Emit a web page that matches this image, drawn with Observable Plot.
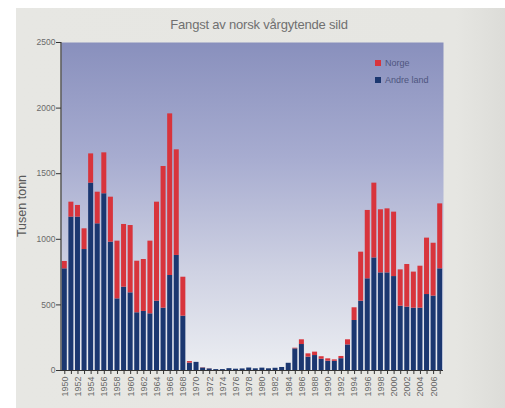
<!DOCTYPE html>
<html>
<head>
<meta charset="utf-8">
<script src="https://cdn.jsdelivr.net/npm/d3@7"></script>
<script src="https://cdn.jsdelivr.net/npm/@observablehq/plot@0.6"></script>
<style>
  html, body { margin: 0; padding: 0; background: #ffffff; width: 505px; height: 408px; overflow: hidden; }
  #panel { position: absolute; left: 16px; top: 8px; width: 489px; height: 400px; background: linear-gradient(90deg, #e7e7e3 0%, #e6e6e2 90%, #dcdcd8 100%); }
  #chart { position: absolute; left: 0; top: 0; }
  #title { position: absolute; left: 60px; width: 398px; top: 17px; text-align: center; font: 13px "Liberation Sans", Arial, sans-serif; color: #707070; letter-spacing: -0.2px; }
  #ylabel { position: absolute; left: 22px; top: 206px; transform: translate(-50%, -50%) rotate(-90deg); font: 12.5px "Liberation Sans", Arial, sans-serif; color: #5a5a5a; white-space: nowrap; }
  .leg { position: absolute; left: 375px; font: 9px "Liberation Sans", Arial, sans-serif; color: #4e557e; white-space: nowrap; }
  .leg i { display: inline-block; width: 6px; height: 6px; margin-right: 4px; vertical-align: 0px; }
</style>
</head>
<body>
<div id="panel"></div>
<div id="chart"></div>
<div id="title">Fangst av norsk vårgytende sild</div>
<div id="ylabel">Tusen tonn</div>
<div class="leg" style="top:58px"><i style="background:#d8343c"></i>Norge</div>
<div class="leg" style="top:75px"><i style="background:#1b3770"></i>Andre land</div>
<script>
const years = [1950,1951,1952,1953,1954,1955,1956,1957,1958,1959,
  1960,1961,1962,1963,1964,1965,1966,1967,1968,1969,
  1970,1971,1972,1973,1974,1975,1976,1977,1978,1979,
  1980,1981,1982,1983,1984,1985,1986,1987,1988,1989,
  1990,1991,1992,1993,1994,1995,1996,1997,1998,1999,
  2000,2001,2002,2003,2004,2005,2006,2007];

const andreLand = [775,1169,1169,922,1428,1118,1347,978,546,635,
  592,440,450,432,528,475,724,877,414,56,
  62,19,12,7,7,14,10,12,19,13,
  18,13,17,23,55,165,198,102,114,86,
  71,70,90,195,381,528,699,858,744,744,
  716,490,483,475,475,579,567,775];

const norge = [56,114,89,158,223,241,312,343,440,478,
  513,393,396,554,755,1080,1232,805,297,12,
  0,2,1,0,0,0,0,0,0,0,
  0,0,0,0,0,5,36,25,26,19,
  18,11,17,39,97,374,521,570,481,488,
  491,277,325,275,320,430,403,495];

const series = ["Norge", "Andre land"];
const colors = ["#d8343c", "#1b3770"];
const yTicks = [0, 500, 1000, 1500, 2000, 2500];

const rows = [];
years.forEach((y, i) => rows.push({year: y, serie: "Andre land", value: andreLand[i]}));
years.forEach((y, i) => rows.push({year: y, serie: "Norge", value: norge[i]}));

const chart = Plot.plot({
  width: 505,
  height: 408,
  marginLeft: 61,
  marginRight: 62,
  marginTop: 42,
  marginBottom: 38,
  style: {background: "transparent", fontFamily: "Liberation Sans, Arial, sans-serif", fontSize: "8.5px", color: "#555"},
  x: {domain: years, paddingInner: 0.24, paddingOuter: 0.12, label: null},
  y: {domain: [0, 2500], label: null},
  color: {domain: series, range: colors},
  marks: [
    Plot.frame({fill: "url(#bggrad)", stroke: null}),
    Plot.barY(rows, {x: "year", y: "value", fill: "serie", order: null}),
    Plot.axisY({ticks: yTicks, tickFormat: d => String(d), tickSize: 5, tickPadding: 1, label: null, stroke: "#333", fill: "#6a6a6a", fontSize: 8.5}),
    Plot.axisX({tickFormat: d => d % 2 === 0 ? String(d) : "", tickRotate: -90, tickSize: 4, tickPadding: 2, label: null, stroke: "#333", fill: "#6a6a6a", fontSize: 9}),
    Plot.ruleY([0], {stroke: "#333", strokeWidth: 1.2})
  ]
});

document.getElementById("chart").appendChild(chart);

const svg = d3.select(chart);
const defs = svg.insert("defs", ":first-child");
const grad = defs.append("linearGradient").attr("id", "bggrad")
  .attr("x1", 0).attr("y1", 0).attr("x2", 0).attr("y2", 1);
grad.append("stop").attr("offset", "0%").attr("stop-color", "#8990bd");
grad.append("stop").attr("offset", "35%").attr("stop-color", "#a7acd0");
grad.append("stop").attr("offset", "70%").attr("stop-color", "#cfd2e3");
grad.append("stop").attr("offset", "100%").attr("stop-color", "#eceef2");

// left axis line, drawn from the y scale
const ys = chart.scale("y");
svg.append("line")
  .attr("x1", 61).attr("x2", 61)
  .attr("y1", ys.apply(0)).attr("y2", ys.apply(2500))
  .attr("stroke", "#333").attr("stroke-width", 1.2);
</script>
</body>
</html>
